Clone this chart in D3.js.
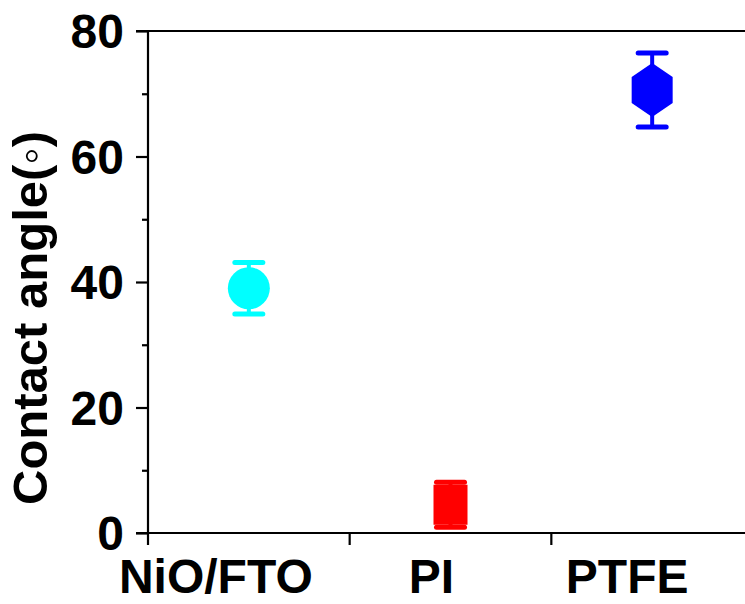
<!DOCTYPE html>
<html>
<head>
<meta charset="utf-8">
<script src="https://cdn.jsdelivr.net/npm/d3@7"></script>
<style>
  html, body { margin: 0; padding: 0; background: #fff; }
  svg { display: block; }
  text { font-family: "Liberation Sans", Arial, Helvetica, sans-serif; font-weight: bold; fill: #000; }
</style>
</head>
<body>
<svg id="chart" width="745" height="604"></svg>
<script>
// ---- data ----
const categories = ["NiO/FTO", "PI", "PTFE"];
const values     = [39.0, 4.5, 70.6];
const errors     = [4.1, 3.6, 5.9];
const colors     = ["#00FFFF", "#FF0000", "#0000FF"];
const shapes     = ["circle", "square", "hexagon"];
const yTicks     = [0, 20, 40, 60, 80];
const yMinor     = [10, 30, 50, 70];
const yTitle     = "Contact angle(\u25E6)";

// ---- layout ----
const svg = d3.select("#chart");
const mLeft = 148, mRight = 753, mTop = 31, mBottom = 533;
const labelDx = [-33, -19, -25];

const x = d3.scaleBand().domain(categories).range([mLeft, mRight]).padding(0);
const y = d3.scaleLinear().domain([0, 80]).range([mBottom, mTop]);

const axisColor = "#000", axisW = 2.2;

// top frame line
svg.append("line").attr("x1", mLeft - 12).attr("x2", 745).attr("y1", y(80)).attr("y2", y(80))
  .attr("stroke", axisColor).attr("stroke-width", axisW);

// Y axis
const yAxis = d3.axisLeft(y).tickValues(yTicks).tickSize(12).tickPadding(12).tickFormat(d3.format("d"));
const gy = svg.append("g").attr("transform", `translate(${mLeft},0)`).call(yAxis);
gy.select(".domain").attr("stroke", axisColor).attr("stroke-width", axisW).attr("d", `M0,${y(80)}V${y(0)}`);
gy.selectAll(".tick line").attr("stroke", axisColor).attr("stroke-width", axisW);
gy.selectAll(".tick text").style("font-size", "48px").style("font-weight", "bold")
  .style("font-family", '"Liberation Sans", Arial, sans-serif').attr("fill", "#000").attr("dy", "0.35em");

const yAxisMinor = d3.axisLeft(y).tickValues(yMinor).tickSize(6).tickFormat("");
const gym = svg.append("g").attr("transform", `translate(${mLeft},0)`).call(yAxisMinor);
gym.select(".domain").remove();
gym.selectAll(".tick line").attr("stroke", axisColor).attr("stroke-width", axisW);

// X axis
const gx = svg.append("g").attr("transform", `translate(0,${mBottom})`);
gx.append("line").attr("x1", mLeft - 12).attr("x2", 745).attr("y1", 0).attr("y2", 0)
  .attr("stroke", axisColor).attr("stroke-width", axisW);
categories.forEach(c => {
  gx.append("line").attr("x1", x(c)).attr("x2", x(c)).attr("y1", 0).attr("y2", 12)
    .attr("stroke", axisColor).attr("stroke-width", axisW);
});
gx.selectAll("text.cat").data(categories).enter().append("text").attr("class", "cat")
  .attr("x", (d, i) => x(d) + x.bandwidth() / 2 + labelDx[i])
  .attr("y", 60)
  .attr("text-anchor", "middle")
  .style("font-size", "48px")
  .text(d => d);

// Y title
svg.append("text")
  .attr("transform", `translate(47,${(mTop + mBottom) / 2 + 36}) rotate(-90)`)
  .attr("text-anchor", "middle")
  .style("font-size", "49px")
  .text(yTitle);

// ---- marks ----
const capW = 28;
const g = svg.append("g");
categories.forEach((c, i) => {
  const cx = x(c) + x.bandwidth() / 2;
  const col = colors[i];
  const yHi = y(values[i] + errors[i]), yLo = y(values[i] - errors[i]);
  g.append("line").attr("x1", cx).attr("x2", cx).attr("y1", yHi).attr("y2", yLo)
    .attr("stroke", col).attr("stroke-width", 4);
  [yHi, yLo].forEach(yy => {
    g.append("line").attr("x1", cx - capW / 2).attr("x2", cx + capW / 2).attr("y1", yy).attr("y2", yy)
      .attr("stroke", col).attr("stroke-width", 5).attr("stroke-linecap", "round");
  });
  const cy = y(values[i]);
  if (shapes[i] === "circle") {
    g.append("circle").attr("cx", cx).attr("cy", cy).attr("r", 21).attr("fill", col);
  } else if (shapes[i] === "square") {
    g.append("rect").attr("x", cx - 17).attr("y", cy - 20).attr("width", 34).attr("height", 40).attr("fill", col);
  } else {
    const hw = 20.5, hh = 27, sh = 13;
    const pts = [[0, -hh], [hw, -sh], [hw, sh], [0, hh], [-hw, sh], [-hw, -sh]];
    g.append("path").attr("d", d3.line()(pts.map(p => [cx + p[0], cy + p[1]])) + "Z").attr("fill", col);
  }
});
</script>
</body>
</html>
